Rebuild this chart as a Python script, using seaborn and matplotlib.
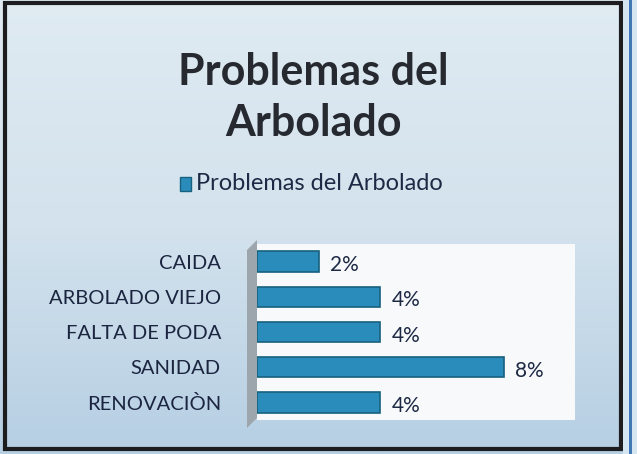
import matplotlib
matplotlib.use("Agg")
import matplotlib.pyplot as plt
import seaborn as sns
import pandas as pd
import numpy as np
from matplotlib.patches import Rectangle, Polygon

# Datos del gráfico
categorias = ["CAIDA", "ARBOLADO VIEJO", "FALTA DE PODA", "SANIDAD", "RENOVACIÒN"]
valores = [2, 4, 4, 8, 4]
etiquetas = ["2%", "4%", "4%", "8%", "4%"]
titulo_1 = "Problemas del"
titulo_2 = "Arbolado"
serie = "Problemas del Arbolado"

df = pd.DataFrame({"categoria": categorias, "valor": valores})

sns.set_style("white")
plt.rcParams["font.family"] = ["Lato", "DejaVu Sans"]

fig = plt.figure(figsize=(6.37, 4.54), dpi=100)
fig.patch.set_facecolor("#d3e3ee")

# fondo con degradado suave
grad = fig.add_axes([0, 0, 1, 1], zorder=-5)
g = np.linspace(0, 1, 256).reshape(-1, 1)
grad.imshow(g, aspect="auto", cmap=matplotlib.colors.LinearSegmentedColormap.from_list(
    "bg", ["#e0ebf2", "#d3e2ed", "#b6cfe3"]), extent=[0, 1, 0, 1], origin="upper")
grad.set_axis_off()

# borde oscuro del recuadro
fig.add_artist(Rectangle((5 / 637, 5 / 454), 616 / 637, 446 / 454, transform=fig.transFigure,
                         fill=False, edgecolor="#1d1d1f", linewidth=3))
fig.add_artist(Rectangle((623 / 637, 0), 14 / 637, 1, transform=fig.transFigure,
                         facecolor="#d6e6f1", edgecolor="none"))
fig.add_artist(Rectangle((629 / 637, 0), 3 / 637, 1, transform=fig.transFigure,
                         facecolor="#3f78b4", edgecolor="none"))

# pared lateral gris (efecto 3D)
fig.add_artist(Polygon([(247 / 637, 1 - 250 / 454), (257 / 637, 1 - 240 / 454),
                        (257 / 637, 1 - 418 / 454), (247 / 637, 1 - 428 / 454)],
                       closed=True, transform=fig.transFigure,
                       facecolor="#9ea6ad", edgecolor="none"))

ax = fig.add_axes([257 / 637, 1 - 420 / 454, 318 / 637, 176 / 454])
ax.set_facecolor("#f7f9fa")

sns.barplot(data=df, x="valor", y="categoria", orient="h", color="#2a8cba",
            edgecolor="#17607f", linewidth=1.2, width=0.58, saturation=1, ax=ax)

ax.set_xlim(0, 10.3)
ax.set_xlabel("")
ax.set_ylabel("")
ax.set_xticks([])
ax.tick_params(axis="y", length=0, pad=26)
for lbl in ax.get_yticklabels():
    lbl.set_fontsize(14.5)
    lbl.set_color("#1b2540")
for s in ax.spines.values():
    s.set_visible(False)

for i, (v, t) in enumerate(zip(valores, etiquetas)):
    ax.text(v + 0.35, i + 0.1, t, va="center", ha="left", fontsize=15, color="#1e2a45")

fig.text(0.492, 1 - 72 / 454, titulo_1, ha="center", va="center", fontsize=31,
         fontweight="bold", color="#262a30")
fig.text(0.492, 1 - 123 / 454, titulo_2, ha="center", va="center", fontsize=31,
         fontweight="bold", color="#262a30")

fig.add_artist(Rectangle((180 / 637, 1 - 191 / 454), 11 / 637, 14 / 454, transform=fig.transFigure,
                         facecolor="#2a8cba", edgecolor="#17607f"))
fig.text(196 / 637, 1 - 184 / 454, serie, ha="left", va="center", fontsize=17, color="#1e2a45")

fig.savefig("out.png", dpi=100, facecolor=fig.get_facecolor())
